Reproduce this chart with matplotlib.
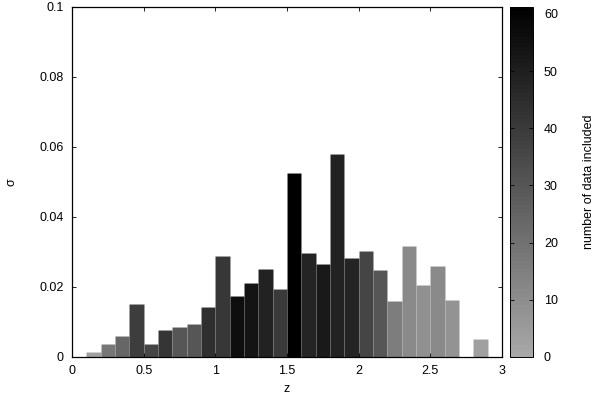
import numpy as np
import matplotlib
matplotlib.use('Agg')
import matplotlib.pyplot as plt
from matplotlib.colors import LinearSegmentedColormap, Normalize
from matplotlib.cm import ScalarMappable

plt.rcParams['font.family'] = ['Liberation Sans', 'DejaVu Sans']

# bin left edges in z (width 0.1)
z_left = [0.1, 0.2, 0.3, 0.4, 0.5, 0.6, 0.7, 0.8, 0.9, 1.0,
          1.1, 1.2, 1.3, 1.4, 1.5, 1.6, 1.7, 1.8, 1.9, 2.0,
          2.1, 2.2, 2.3, 2.4, 2.5, 2.6, 2.7, 2.8]
sigma = [0.0013, 0.0036, 0.0059, 0.0151, 0.0037, 0.0076, 0.0085, 0.0094, 0.0142, 0.0289,
         0.0174, 0.0210, 0.0250, 0.0194, 0.0527, 0.0296, 0.0265, 0.0580, 0.0282, 0.0303,
         0.0249, 0.0160, 0.0316, 0.0206, 0.0259, 0.0163, 0.0, 0.0051]
n_data = [3, 18, 24, 39, 36, 42, 30, 30, 44, 41,
          56, 54, 49, 40, 61, 48, 52, 49, 48, 36,
          30, 16, 11, 9, 11, 8, 0, 3]

cmap = LinearSegmentedColormap.from_list('grays', [(0.66, 0.66, 0.66), (0.0, 0.0, 0.0)])
norm = Normalize(vmin=0, vmax=61.2)

fig = plt.figure(figsize=(6, 3.97), dpi=100)
ax = fig.add_axes([0.12, 0.1008, 0.7167, 0.8816])
cax = fig.add_axes([0.85, 0.1008, 0.038, 0.8816])

ax.bar(z_left, sigma, width=0.1, align='edge',
       color=[cmap(norm(n)) for n in n_data], edgecolor=(1, 1, 1, 0.07), linewidth=0.5)

ax.set_xlim(0, 3)
ax.set_ylim(0, 0.1)
ax.set_xticks([0, 0.5, 1, 1.5, 2, 2.5, 3])
ax.set_xticklabels(['0', '0.5', '1', '1.5', '2', '2.5', '3'])
ax.set_yticks([0, 0.02, 0.04, 0.06, 0.08, 0.1])
ax.set_yticklabels(['0', '0.02', '0.04', '0.06', '0.08', '0.1'])
ax.tick_params(direction='in', length=3, width=0.6, top=True, right=True,
               labelsize=9, pad=6)
ax.set_xlabel('z', fontsize=9, labelpad=4)
ax.set_ylabel('σ', fontsize=9, labelpad=16)
for s in ax.spines.values():
    s.set_linewidth(0.9)

sm = ScalarMappable(norm=norm, cmap=cmap)
cb = fig.colorbar(sm, cax=cax)
cb.set_ticks([0, 10, 20, 30, 40, 50, 60])
cb.ax.tick_params(direction='in', length=3, width=0.6, left=True, right=True,
                  labelsize=9, pad=8)
cb.set_label('number of data included', fontsize=9, labelpad=18)
cb.outline.set_linewidth(0.7)

fig.savefig('out.png', dpi=100)
